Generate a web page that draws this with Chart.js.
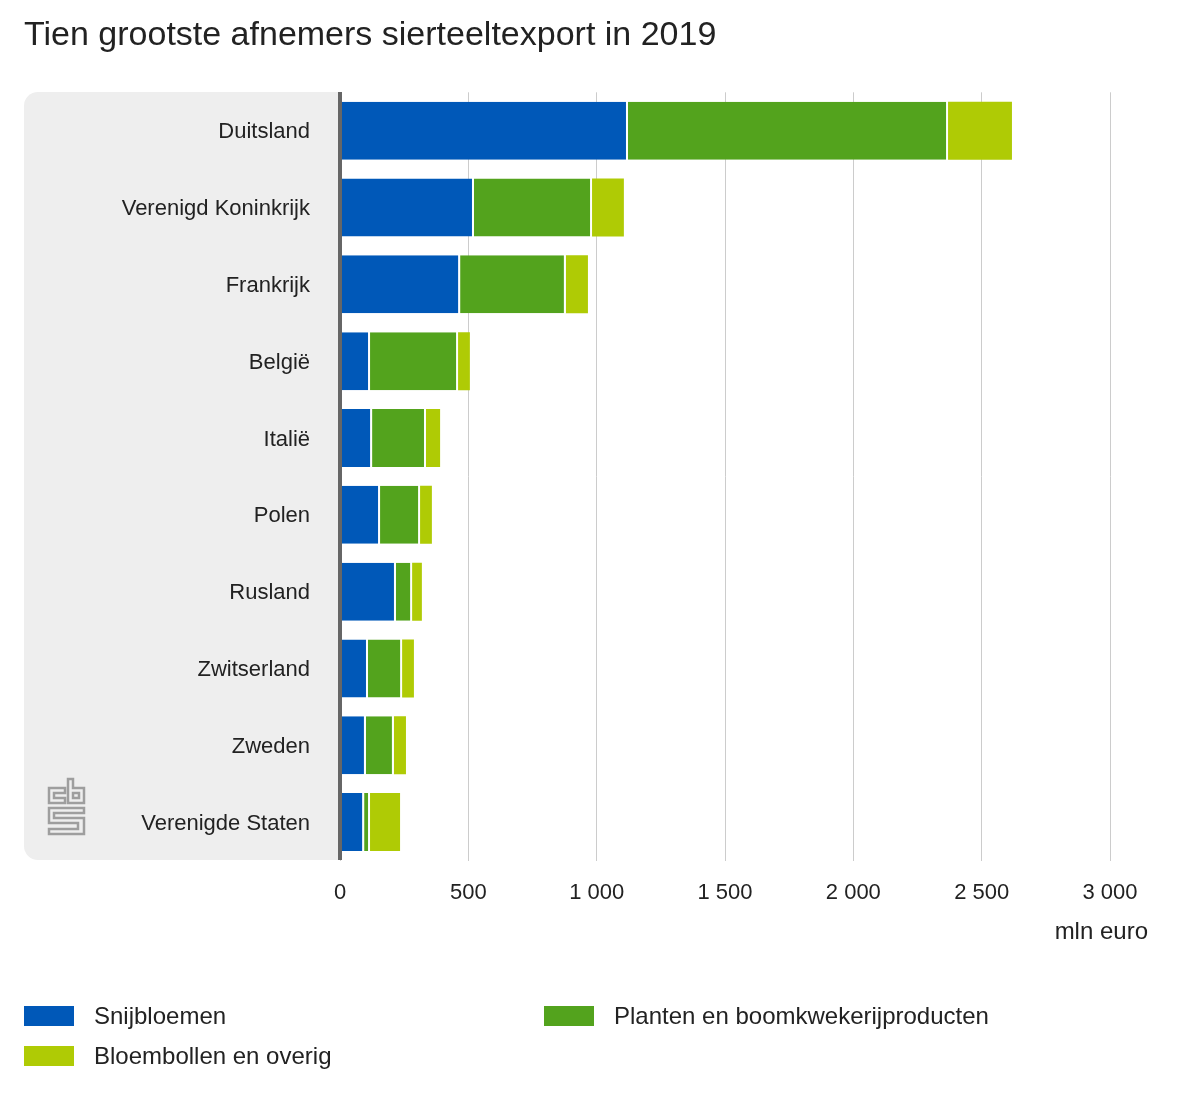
<!DOCTYPE html>
<html>
<head>
<meta charset="utf-8">
<script src="https://cdn.jsdelivr.net/npm/chart.js@4"></script>
<style>
  html, body { margin: 0; padding: 0; background: #fff; }
  #wrap { position: relative; width: 1200px; height: 1100px; overflow: hidden; }
  #exp-chart { position: absolute; left: 0; top: 0; }
  .leg { position: absolute; height: 20px; font: 24px "Liberation Sans", Arial, sans-serif; color: #222; }
  .leg i { position: absolute; left: 0; top: 0; width: 50px; height: 20px; }
  .leg span { position: absolute; left: 70px; top: -3px; white-space: nowrap; line-height: 26px; }
</style>
</head>
<body>
<div id="wrap">
  <canvas id="exp-chart" width="1200" height="1100"></canvas>
  <div id="legend"></div>
</div>
<script>
var countries = ['Duitsland', 'Verenigd Koninkrijk', 'Frankrijk', 'België', 'Italië', 'Polen', 'Rusland', 'Zwitserland', 'Zweden', 'Verenigde Staten'];
var snijbloemen = [1122, 522, 468, 117, 125, 156, 218, 109, 101, 94];
var planten = [1247, 460, 412, 343, 210, 156, 63, 133, 109, 23];
var bloembollen = [249, 124, 86, 46, 55, 46, 38, 46, 47, 117];
var xTicks = [0, 500, 1000, 1500, 2000, 2500, 3000];

var textColor = '#222';
var fontName = '"Liberation Sans", Arial, sans-serif';

function outline(c, pts) {
    pts.forEach(function (p, i) {
        if (i === 0) c.moveTo(p[0], p[1]); else c.lineTo(p[0], p[1]);
    });
    c.closePath();
}

// grey panel behind the country names, logo, axis line and the unit label
var panel = {
    id: 'panel',
    beforeDraw: function (chart) {
        var c = chart.ctx, a = chart.chartArea;
        c.save();
        c.fillStyle = '#eeeeee';
        c.beginPath();
        c.roundRect(24, 92, a.left - 24, 768, [14, 0, 0, 14]);
        c.fill();
        c.restore();
    },
    afterDraw: function (chart) {
        var c = chart.ctx;
        c.save();
        c.fillStyle = '#666666';
        c.fillRect(chart.scales.x.getPixelForValue(0) - 2, 92, 4, 768);
        c.strokeStyle = '#9e9e9e';
        c.lineWidth = 2.5;
        c.beginPath();
        // c
        outline(c, [[49, 788], [65, 788], [65, 793], [54, 793], [54, 798], [65, 798], [65, 803], [49, 803]]);
        // b
        outline(c, [[68, 779], [73, 779], [73, 788], [84, 788], [84, 803], [68, 803]]);
        outline(c, [[73, 793], [79, 793], [79, 798], [73, 798]]);
        // s
        outline(c, [[49, 808], [84, 808], [84, 813], [54, 813], [54, 818], [84, 818], [84, 834], [49, 834], [49, 829], [78, 829], [78, 823], [49, 823]]);
        c.stroke();
        // unit
        c.fillStyle = textColor;
        c.font = '24px ' + fontName;
        c.textAlign = 'right';
        c.textBaseline = 'middle';
        c.fillText('mln euro', 1148, 932);
        c.restore();
    }
};

var ctx = document.getElementById('exp-chart').getContext('2d');
var myChart = new Chart(ctx, {
    type: 'bar',
    data: {
        labels: countries,
        datasets: [
            { label: 'Snijbloemen', data: snijbloemen, backgroundColor: '#0058b8', borderColor: '#fff', borderWidth: { right: 2 }, borderSkipped: false },
            { label: 'Planten en boomkwekerijproducten', data: planten, backgroundColor: '#53a31d', borderColor: '#fff', borderWidth: { right: 2 }, borderSkipped: false },
            { label: 'Bloembollen en overig', data: bloembollen, backgroundColor: '#afcb05', borderWidth: 0 }
        ]
    },
    options: {
        indexAxis: 'y',
        responsive: false,
        animation: false,
        barPercentage: 0.755,
        categoryPercentage: 1,
        layout: { padding: { left: 24, top: 15.5, right: 90, bottom: 199.5 } },
        plugins: {
            legend: { display: false },
            tooltip: { enabled: false },
            title: {
                display: true,
                text: 'Tien grootste afnemers sierteeltexport in 2019',
                align: 'start',
                color: textColor,
                font: { family: fontName, size: 34, weight: 'normal' },
                padding: { top: 0, bottom: 36 }
            }
        },
        scales: {
            x: {
                stacked: true,
                min: 0,
                max: 3000,
                afterBuildTicks: function (axis) {
                    axis.ticks = xTicks.map(function (v) { return { value: v }; });
                },
                ticks: {
                    color: textColor,
                    font: { family: fontName, size: 22 },
                    padding: 19,
                    maxRotation: 0,
                    callback: function (v) { return String(v).replace(/\B(?=(\d{3})+$)/g, ' '); }
                },
                grid: { color: '#cccccc', lineWidth: 1, drawTicks: false },
                border: { display: false },
                afterFit: function (axis) { axis.height = 40; }
            },
            y: {
                stacked: true,
                ticks: {
                    color: textColor,
                    font: { family: fontName, size: 22 },
                    padding: 30,
                    labelOffset: 1.5,
                    autoSkip: false
                },
                grid: { display: false, drawTicks: false },
                border: { display: false },
                afterFit: function (axis) { axis.width = 316; }
            }
        }
    },
    plugins: [panel]
});

// legend from the chart's own datasets
var legendSpots = [[24, 1006], [544, 1006], [24, 1046]];
var legendBox = document.getElementById('legend');
myChart.data.datasets.forEach(function (ds, i) {
    var d = document.createElement('div');
    d.className = 'leg';
    d.style.left = legendSpots[i][0] + 'px';
    d.style.top = legendSpots[i][1] + 'px';
    d.innerHTML = '<i style="background:' + ds.backgroundColor + '"></i><span>' + ds.label + '</span>';
    legendBox.appendChild(d);
});
</script>
</body>
</html>
